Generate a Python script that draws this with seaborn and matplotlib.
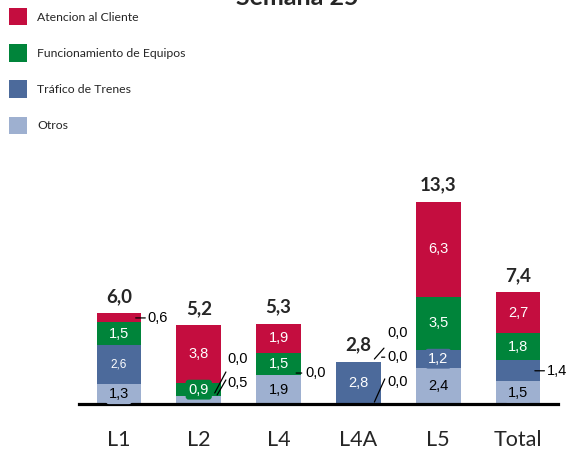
import matplotlib
matplotlib.use("Agg")
import matplotlib.pyplot as plt
from matplotlib.patches import Patch
import seaborn as sns
import pandas as pd

# Data
categories = ["L1", "L2", "L4", "L4A", "L5", "Total"]
otros = [1.3, 0.5, 1.9, 0.0, 2.4, 1.5]
trafico = [2.6, 0.0, 0.0, 2.8, 1.2, 1.4]
funcionamiento = [1.5, 0.9, 1.5, 0.0, 3.5, 1.8]
atencion = [0.6, 3.8, 1.9, 0.0, 6.3, 2.7]
totals = [6.0, 5.2, 5.3, 2.8, 13.3, 7.4]

series_names = ["Otros", "Tráfico de Trenes", "Funcionamiento de Equipos", "Atencion al Cliente"]
series_values = [otros, trafico, funcionamiento, atencion]
colors = ["#9EB0D0", "#4C6A9B", "#00843A", "#C40D3F"]
text_colors = ["black", "white", "white", "white"]

sns.set_style("white")
plt.rcParams["font.family"] = ["Liberation Sans", "DejaVu Sans"]

fig = plt.figure(figsize=(5.73, 4.51), dpi=100)
ax = fig.add_axes([79 / 573, 47 / 451, 479 / 573, 14 * 15.1 / 451])

# Stacked bars: draw the cumulative heights from the top layer down
df = pd.DataFrame({"cat": categories})
cum = [0.0] * len(categories)
cums = []
for vals in series_values:
    cum = [c + v for c, v in zip(cum, vals)]
    cums.append(list(cum))

for k in reversed(range(len(series_values))):
    df["h"] = cums[k]
    sns.barplot(data=df, x="cat", y="h", color=colors[k], saturation=1,
                width=0.56, linewidth=0, ax=ax)

# Segment labels, callouts for the small segments
callouts = {
    (0, 3): [(0.21, 0.0), (0.33, 0.0), (0.36, 0.0)],
    (1, 1): [(0.20, 0.23), (0.34, 1.62), (0.36, 2.48)],
    (1, 0): [(0.23, 0.35), (0.34, 1.34), (0.36, 1.14)],
    (2, 1): [(0.22, 0.15), (0.29, 0.15), (0.33, 0.15)],
    (3, 3): [(0.20, 0.18), (0.32, 0.90), (0.36, 1.90)],
    (3, 2): [(0.29, 0.30), (0.33, 0.30), (0.36, 0.31)],
    (3, 0): [(0.20, 0.13), (0.33, 1.66), (0.36, 1.46)],
    (5, 1): [(0.21, 0.0), (0.33, 0.0), (0.36, 0.0)],
}

for i in range(len(categories)):
    bottom = 0.0
    for k, vals in enumerate(series_values):
        v = vals[i]
        mid = bottom + v / 2
        label = f"{v:.1f}".replace(".", ",")
        if (i, k) in callouts:
            start, end, txt = callouts[(i, k)]
            ax.annotate("", xy=(i + start[0], mid + start[1]),
                        xytext=(i + end[0], mid + end[1]),
                        arrowprops=dict(arrowstyle="-", lw=0.9, color="black",
                                        shrinkA=0, shrinkB=0))
            ax.text(i + txt[0], mid + txt[1], label, ha="left", va="center",
                    fontsize=10.5, color="black")
        elif v > 0:
            size = 8.5 if (i, k) == (0, 1) else 10.5
            ax.text(i, mid, label, ha="center", va="center", fontsize=size,
                    color=text_colors[k],
                    bbox=dict(boxstyle="round,pad=0.2", fc=colors[k], ec="none"))
        bottom += v

# Totals on top
for i, t in enumerate(totals):
    ax.annotate(f"{t:.1f}".replace(".", ","), xy=(i, cums[-1][i]),
                xytext=(0, 6), textcoords="offset points",
                ha="center", va="bottom", fontsize=13.5, fontweight="bold",
                family="Lato", annotation_clip=False)

ax.set_ylim(0, 14)
ax.set_xlim(-0.5, 5.5)
ax.set_xlabel("")
ax.set_ylabel("")
ax.set_yticks([])
for side in ["top", "left", "right"]:
    ax.spines[side].set_visible(False)
ax.spines["bottom"].set_linewidth(2.3)
ax.spines["bottom"].set_color("black")
ax.tick_params(axis="x", length=0, pad=19)
for lab in ax.get_xticklabels():
    lab.set_fontfamily("Lato")
    lab.set_fontsize(15.5)
ax.patch.set_alpha(0)

# Legend (top-left)
handles = [Patch(facecolor=colors[k], edgecolor="none") for k in [3, 2, 1, 0]]
labels = [series_names[k] for k in [3, 2, 1, 0]]
fig.legend(handles, labels, loc="upper left", bbox_to_anchor=(9 / 573, 1 - 8 / 451),
           frameon=False, prop=dict(family="Lato", size=8.8),
           handlelength=1.5, handleheight=1.8, handletextpad=0.8,
           labelspacing=1.55, borderpad=0, borderaxespad=0)

fig.text(297 / 573, 1 - 5 / 451, "Semana 25", ha="center", va="baseline",
         fontsize=18, fontweight="bold", family="Lato")

fig.savefig("out.png", dpi=100)
